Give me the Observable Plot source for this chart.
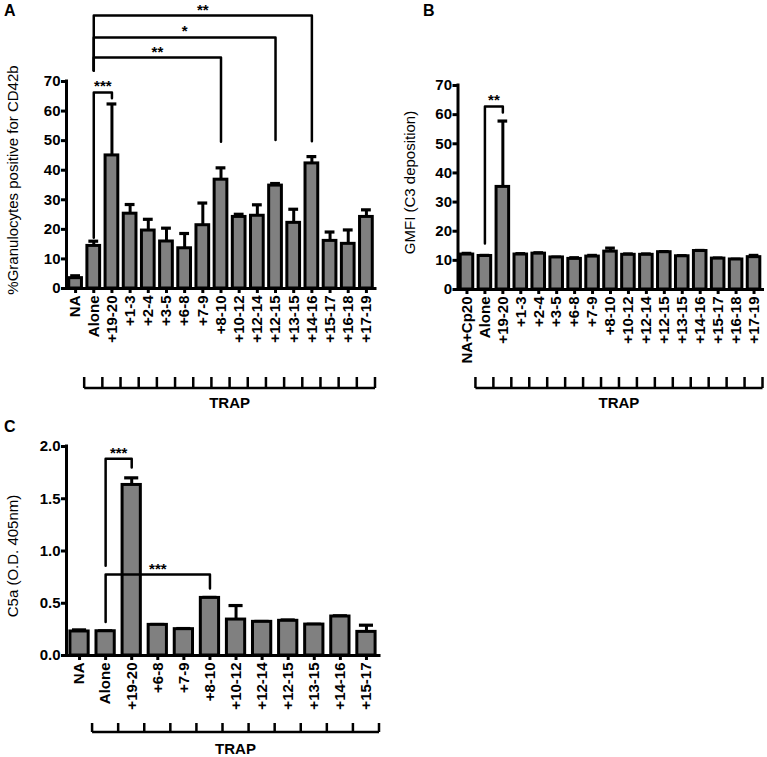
<!DOCTYPE html>
<html><head><meta charset="utf-8">
<script src="https://cdn.jsdelivr.net/npm/d3@7"></script>
<script src="https://cdn.jsdelivr.net/npm/@observablehq/plot@0.6"></script>
<style>
body{margin:0;background:#fff;}
#root{position:relative;width:767px;height:757px;font-family:"Liberation Sans",Arial,sans-serif;overflow:hidden;}
.panel{position:absolute;}
.letter{position:absolute;font-weight:bold;font-size:16px;line-height:16px;}
</style></head><body><div id="root"></div>
<script>
// ---- Panel A data ----
const catsA = ["NA","Alone","+19-20","+1-3","+2-4","+3-5","+6-8","+7-9","+8-10","+10-12","+12-14","+12-15","+13-15","+14-16","+15-17","+16-18","+17-19"];
const meanA = [3.5,14.4,45.0,25.3,19.6,15.9,13.6,21.4,36.8,24.2,24.6,34.8,22.2,42.3,16.1,15.1,24.2];
const errA  = [4.3,16.0,62.4,28.4,23.4,20.4,18.6,28.9,40.8,25.1,28.3,35.5,26.8,44.6,19.1,19.8,26.6];
const ticksA = [0,10,20,30,40,50,60,70];
const sigA = [
  {from:"Alone", to:"+19-20", top:66.3, fromEnd:17.2, toEnd:64.3, label:"***"},
  {from:"Alone", to:"+8-10",  top:78.1, fromEnd:73.7, toEnd:49.6, label:"**"},
  {from:"Alone", to:"+12-15", top:84.9, fromEnd:73.7, toEnd:50.2, label:"*"},
  {from:"Alone", to:"+14-16", top:92.3, fromEnd:73.7, toEnd:49.8, label:"**"}
];
// ---- Panel B data ----
const catsB = ["NA+Cp20","Alone","+19-20","+1-3","+2-4","+3-5","+6-8","+7-9","+8-10","+10-12","+12-14","+12-15","+13-15","+14-16","+15-17","+16-18","+17-19"];
const meanB = [12.0,11.5,35.2,12.0,12.3,11.0,10.5,11.3,13.0,11.9,11.9,12.8,11.4,13.2,10.6,10.3,11.1];
const errB  = [12.4,11.7,57.8,12.3,12.6,11.1,10.9,11.7,14.2,12.2,12.2,13.0,11.6,13.4,10.8,10.4,11.7];
const ticksB = [0,10,20,30,40,50,60,70];
const sigB = [
  {from:"Alone", to:"+19-20", top:62.8, fromEnd:15.8, toEnd:60.7, label:"**"}
];
// ---- Panel C data ----
const catsC = ["NA","Alone","+19-20","+6-8","+7-9","+8-10","+10-12","+12-14","+12-15","+13-15","+14-16","+15-17"];
const meanC = [0.230,0.232,1.632,0.293,0.252,0.551,0.344,0.322,0.332,0.296,0.373,0.226];
const errC  = [0.245,0.236,1.700,0.297,0.258,0.556,0.478,0.326,0.340,0.299,0.380,0.290];
const ticksC = [0,0.5,1.0,1.5,2.0];
const sigC = [
  {from:"Alone", to:"+19-20", top:1.883, fromEnd:0.86, toEnd:1.80, label:"***"},
  {from:"Alone", to:"+8-10",  top:0.774, fromEnd:0.32, toEnd:0.64, label:"***"}
];

const FONT = '"Liberation Sans", Arial, Helvetica, sans-serif';

function panel(cfg) {
  const {cats, mean, err, sig, yDomain, yTicks, yFormat, yLabel, width, height,
         mL, mR, mT, mB, labelDx, labelDy, trapFirst, trapDy, trapTick, trapTextDy} = cfg;
  const rows = cats.map((c, i) => ({i, c, m: mean[i], e: err[i]}));
  const withErr = rows.filter(d => d.e > d.m);
  const xDomain = [-0.5, cats.length - 0.5];
  const sigLines = sig.flatMap((s, k) => {
    const a = cats.indexOf(s.from), b = cats.indexOf(s.to);
    return [{k, x: a, y: s.fromEnd}, {k, x: a, y: s.top}, {k, x: b, y: s.top}, {k, x: b, y: s.toEnd}];
  });
  const svg = Plot.plot({
    width, height, marginLeft: mL, marginRight: mR, marginTop: mT, marginBottom: mB,
    x: {type: "linear", domain: xDomain, axis: null},
    y: {type: "linear", domain: yDomain, axis: null},
    style: {fontFamily: FONT, fontSize: "15px", fontWeight: "bold", background: "transparent", overflow: "visible", color: "black"},
    marks: [
      Plot.ruleX(withErr, {x: "i", y1: "m", y2: "e", strokeWidth: 3}),
      Plot.ruleY(withErr, {x1: d => d.i - 0.27, x2: d => d.i + 0.27, y: "e", strokeWidth: 3.2}),
      Plot.rectY(rows, {x1: d => d.i - 0.35, x2: d => d.i + 0.35, y1: yDomain[0], y2: "m", fill: "#808080", stroke: "black", strokeWidth: 3}),
      Plot.ruleY([yDomain[0]], {strokeWidth: 3, strokeLinecap: "square"}),
      Plot.ruleX([xDomain[0]], {y1: yDomain[0], y2: yDomain[1], strokeWidth: 3, strokeLinecap: "square"}),
      Plot.axisY({ticks: yTicks, tickFormat: yFormat, tickSize: 5, tickPadding: 1, strokeWidth: 3, label: null, fontSize: 15, fontWeight: "bold"}),
      Plot.axisX({ticks: rows.map(d => d.i), tickFormat: i => cats[i], tickRotate: -90, tickSize: 5, tickPadding: 2, strokeWidth: 3, label: null, fontSize: 15, fontWeight: "bold"}),
      Plot.line(sigLines, {x: "x", y: "y", z: "k", strokeWidth: 2.5, curve: "linear"}),
      Plot.text(sig, {x: s => (cats.indexOf(s.from) + cats.indexOf(s.to)) / 2, y: "top", text: "label", lineAnchor: "bottom", dy: -1, fontSize: 15, fontWeight: "bold"}),
      Plot.text([yLabel], {text: d => d, frameAnchor: "left", rotate: -90, dx: labelDx, dy: labelDy, fontSize: 15, fontWeight: "normal", textAnchor: "middle"})
    ]
  });
  // TRAP grouping bracket drawn through the plot's own scales
  const sx = svg.scale("x"), sy = svg.scale("y");
  const y0 = sy.apply(yDomain[0]) + trapDy;
  const bounds = d3.range(trapFirst - 0.5, cats.length, 1).map(v => sx.apply(v));
  let p = `M${bounds[0]},${y0}H${bounds[bounds.length - 1]}`;
  for (const bx of bounds) p += `M${bx},${y0}V${y0 - trapTick}`;
  const g = d3.select(svg).append("g");
  g.append("path").attr("d", p).attr("fill", "none").attr("stroke", "black").attr("stroke-width", 2.5);
  g.append("text").attr("x", (bounds[0] + bounds[bounds.length - 1]) / 2).attr("y", y0 + trapTextDy)
    .attr("text-anchor", "middle").attr("dominant-baseline", "central")
    .attr("font-size", 15).attr("font-weight", "bold").attr("fill", "black").text("TRAP");
  return svg;
}

const root = document.getElementById("root");
function place(el, left, top) {
  el.classList.add("panel");
  el.style.left = left + "px";
  el.style.top = top + "px";
  el.style.position = "absolute";
  root.appendChild(el);
}
function letter(t, left, top) {
  const d = document.createElement("div");
  d.className = "letter"; d.textContent = t;
  d.style.left = left + "px"; d.style.top = top + "px";
  root.appendChild(d);
}

place(panel({cats: catsA, mean: meanA, err: errA, sig: sigA, yDomain: [0, 70], yTicks: ticksA, yFormat: d => d,
  yLabel: "%Granulocytes positive for CD42b", width: 390, height: 420, mL: 66, mR: 15, mT: 81, mB: 132,
  labelDx: -53, labelDy: -5, trapFirst: 1, trapDy: 100, trapTick: 11, trapTextDy: 14}), 0, 0);

place(panel({cats: catsB, mean: meanB, err: errB, sig: sigB, yDomain: [0, 70], yTicks: ticksB, yFormat: d => d,
  yLabel: "GMFI (C3 deposition)", width: 377, height: 420, mL: 67.5, mR: 4.5, mT: 85, mB: 131,
  labelDx: -47.5, labelDy: -5, trapFirst: 1, trapDy: 99, trapTick: 11, trapTextDy: 14}), 390, 0);

place(panel({cats: catsC, mean: meanC, err: errC, sig: sigC, yDomain: [0, 2], yTicks: ticksC, yFormat: d3.format(".1f"),
  yLabel: "C5a (O.D. 405nm)", width: 400, height: 337, mL: 66, mR: 21, mT: 26, mB: 102,
  labelDx: -53, labelDy: 5, trapFirst: 1, trapDy: 77, trapTick: 9, trapTextDy: 16}), 0, 420);

letter("A", 4, 3);
letter("B", 423, 3);
letter("C", 4, 419);
</script>
</body></html>
